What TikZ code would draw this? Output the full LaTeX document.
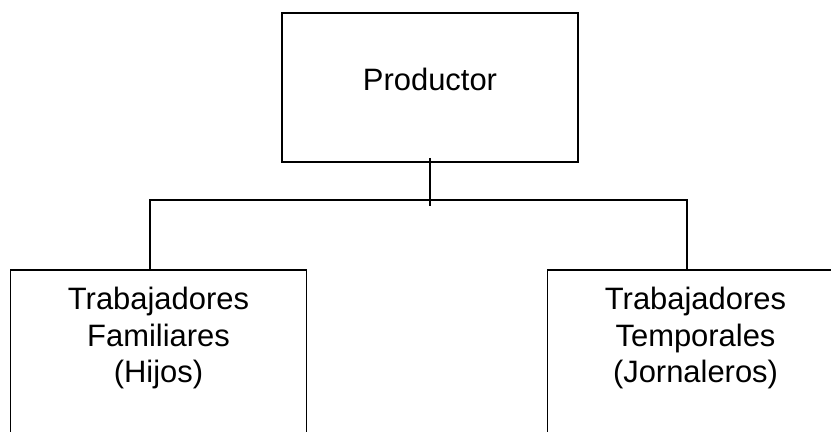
\documentclass[tikz,border=0pt]{standalone}
\usepackage{fontspec}
\setmainfont{Liberation Sans}
\usepackage{tikz}
\usetikzlibrary{positioning}

\tikzset{
  caja/.style={draw, line width=1.1pt, inner sep=0pt, align=center, text width=5.92cm,
    font=\fontsize{17.6}{20.5}\selectfont},
  linea/.style={line width=1.1pt}
}

\begin{document}
\begin{tikzpicture}
\path[use as bounding box, clip] (0,0) rectangle (16.62,-8.64);

\node[caja, text height=1.56cm, text depth=1.42cm, anchor=base] (prod) at (8.6,-1.82) {Productor};
\node[caja, text height=0.8cm, text depth=2.8cm, anchor=base] (fam) at (3.17,-6.2) {Trabajadores\\Familiares\\(Hijos)};
\node[caja, text height=0.8cm, text depth=2.8cm, anchor=base] (temp) at (13.91,-6.2) {Trabajadores\\Temporales\\(Jornaleros)};

\coordinate (bus) at (prod.south |- 0,-4.0);
\coordinate (busL) at (3.0,-4.0);
\coordinate (busR) at (13.74,-4.0);

\draw[linea] ([yshift=0.1cm]prod.south) -- ([yshift=-0.12cm]bus);
\draw[linea] (busL |- fam.north) -- (busL) -- (busR) -- (busR |- temp.north);
\end{tikzpicture}
\end{document}
